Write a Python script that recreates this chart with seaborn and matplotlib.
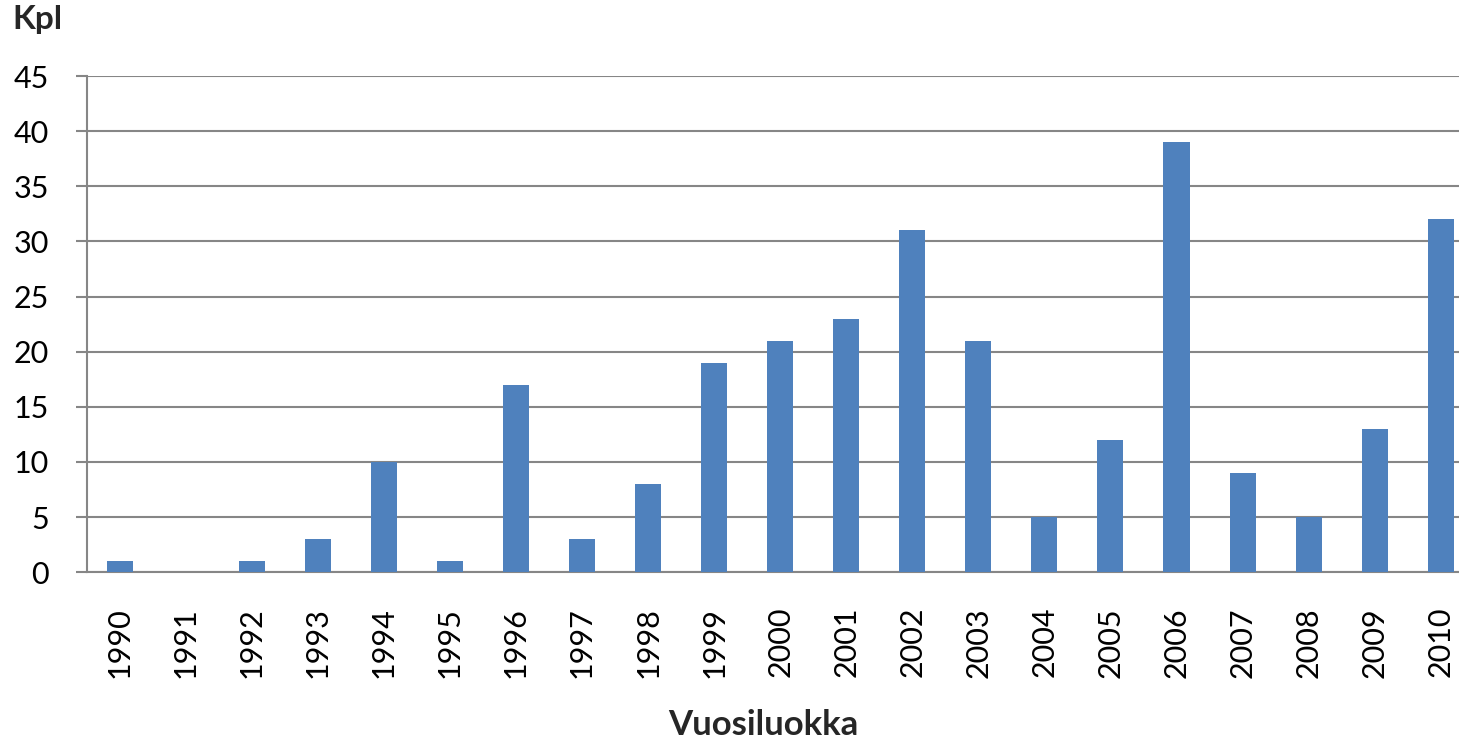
import pandas as pd
import matplotlib
matplotlib.use("Agg")
import matplotlib.pyplot as plt
import seaborn as sns

years = [str(y) for y in range(1990, 2011)]
counts = [1, 0, 1, 3, 10, 1, 17, 3, 8, 19, 21, 23, 31, 21, 5, 12, 39, 9, 5, 13, 32]
y_ticks = [0, 5, 10, 15, 20, 25, 30, 35, 40, 45]

df = pd.DataFrame({"vuosi": years, "kpl": counts})

sns.set_theme(style="white")
plt.rcParams['font.family'] = ['Lato', 'DejaVu Sans']

fig = plt.figure(figsize=(14.59, 7.41), dpi=100)
ax = fig.add_axes([0.0594, 0.2277, 0.9507, 0.6697])

sns.barplot(data=df, x="vuosi", y="kpl", color="#4F81BD", saturation=1,
            width=0.394, linewidth=0, ax=ax, zorder=3)

ax.set_xlim(-0.5, len(years) - 0.5)
ax.set_ylim(0, 45)
ax.set_yticks(y_ticks)
ax.yaxis.grid(True, color="#868686", linewidth=1.5, zorder=0)
ax.set_axisbelow(True)

for s in ["top", "right"]:
    ax.spines[s].set_visible(False)
for s in ["left", "bottom"]:
    ax.spines[s].set_color("#868686")
    ax.spines[s].set_linewidth(1.5)

ax.tick_params(axis="y", left=True, length=8, width=1.5, color="#868686",
               pad=19, labelsize=22, labelcolor="black")
ax.tick_params(axis="x", bottom=False, pad=19, labelsize=22, labelcolor="black",
               labelrotation=90)
ax.set_xlabel("")
ax.set_ylabel("")

fig.text(12 / 1459, 1 - 5 / 741, "Kpl", fontsize=24, fontweight="bold",
         ha="left", va="top")
fig.text(763 / 1459, 1 - 725 / 741, "Vuosiluokka", fontsize=25,
         fontweight="bold", ha="center", va="center")

fig.savefig("out.png", dpi=100)
